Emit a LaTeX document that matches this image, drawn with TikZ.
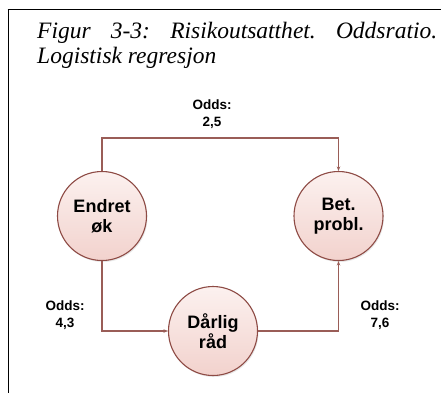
\documentclass[tikz,border=0pt]{standalone}
\usepackage{fontspec}
\setmainfont{Liberation Serif}
\setsansfont{Liberation Sans}
\usepackage{tikz}
\usetikzlibrary{arrows.meta,positioning,shadows}
\definecolor{nodeborder}{HTML}{8E4B45}
\definecolor{linkcolor}{HTML}{9A5D57}
\definecolor{fillhigh}{HTML}{FCF1EF}
\definecolor{filllow}{HTML}{F2D2CD}
\tikzset{
    varnode/.style={circle, draw=nodeborder, line width=1.1pt, minimum size=89pt, inner sep=0pt,
        top color=fillhigh, bottom color=filllow, align=center,
        font=\sffamily\bfseries\fontsize{18}{20}\selectfont,
        drop shadow={opacity=0.18, shadow xshift=1pt, shadow yshift=-1.5pt}},
    link/.style={draw=linkcolor, line width=1.1pt, -{Stealth[length=4.5pt,width=3.5pt]}},
    oddslabel/.style={align=center, font=\sffamily\bfseries\fontsize{13.5}{17}\selectfont},
    titleline/.style={anchor=base west, inner sep=0pt, font=\itshape\fontsize{23.5}{25}\selectfont}
}

\begin{document}
\begin{tikzpicture}[x=1pt, y=-1pt]
    \useasboundingbox (0,0) rectangle (441,392);
    \fill[white] (0,0) rectangle (441,392);

    % Frame
    \draw[black, line width=1.6pt] (8.5,395) -- (8.5,9.5);
    \draw[black, line width=1.6pt] (7.7,9.5) -- (445,9.5);

    % Title
    \node[titleline] (title1) at (37,38)
        {\makebox[400pt][s]{Figur\hfill 3-3:\hfill Risikoutsatthet.\hfill Oddsratio.}};
    \node[titleline] (title2) at (37,63) {Logistisk regresjon};

    % Variables
    \node[varnode] (endret) at (102,216) {Endret\\øk};
    \node[varnode] (betprobl) at (338.5,216) {Bet.\\probl.};
    \node[varnode] (darlig) at (213,331) {Dårlig\\råd};

    % Connectors
    \coordinate (topright) at (338.5,138);
    \draw[link] (endret.north) |- (topright) -- (betprobl.north);
    \draw[link] (endret.south) |- (darlig.west);
    \draw[link] (darlig.east) -| (betprobl.south);

    % Odds
    \node[oddslabel] (odds1) at (212,114) {Odds:\\2,5};
    \node[oddslabel] (odds2) at (65,315) {Odds:\\4,3};
    \node[oddslabel] (odds3) at (380,315) {Odds:\\7,6};
\end{tikzpicture}
\end{document}
